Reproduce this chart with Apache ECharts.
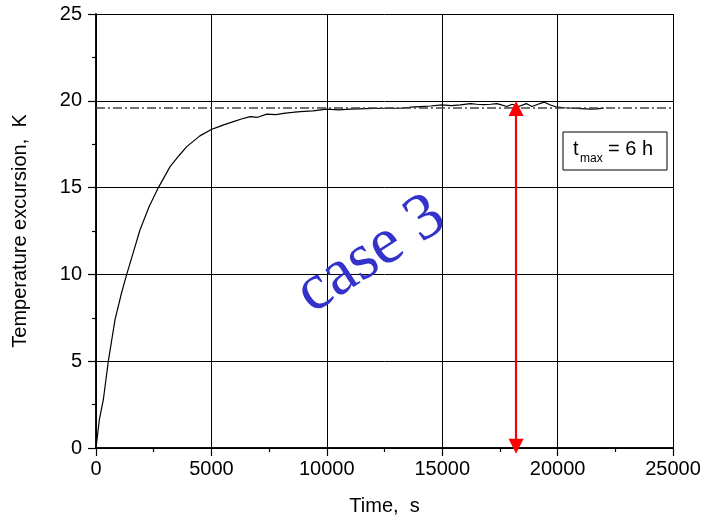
<!DOCTYPE html>
<html><head><meta charset="utf-8">
<script src="https://cdn.jsdelivr.net/npm/echarts@6/dist/echarts.min.js"></script>
<style>html,body{margin:0;padding:0;background:#fff}#c{width:705px;height:522px}</style>
</head><body><div id="c"></div>
<script>
// Time (s) and temperature excursion (K)
const timeS = [0,145,318,533,824,1100,1330,1600,1908,2300,2703,3209,3600,3932,4500,5016,5300,5500,5955,6300,6680,7000,7403,7800,8125,8500,8850,9400,10004,10500,11015,11700,12460,13180,13617,14050,14500,14990,15400,15785,16220,16500,16795,17100,17375,17810,18025,18310,18645,18890,19150,19425,19690,19980,20300,20700,21000,21420,21700,22000];
const tempK = [0,1.63,2.78,4.99,7.39,8.9,10.0,11.2,12.57,13.9,15.0,16.21,16.85,17.36,17.98,18.36,18.5,18.6,18.8,18.95,19.09,19.05,19.23,19.2,19.28,19.33,19.38,19.42,19.52,19.48,19.52,19.55,19.57,19.57,19.63,19.67,19.7,19.76,19.72,19.76,19.84,19.8,19.78,19.8,19.84,19.67,19.8,19.67,19.84,19.67,19.8,19.92,19.76,19.63,19.6,19.57,19.55,19.52,19.54,19.58];
const refLevel = 19.6;           // dash-dot reference level, K
const arrowTime = 18200;         // red double arrow position, s
const arrowFrom = 0.1, arrowTo = 19.55;
const xMin = 0, xMax = 25000, xStep = 5000;
const yMin = 0, yMax = 25, yStep = 5;
const xName = 'Time,  s';
const yName = 'Temperature excursion,  K';
const caseLabel = 'case 3';

const font = '"Liberation Sans", Arial, sans-serif';
const chart = echarts.init(document.getElementById('c'));
const data = timeS.map((t, i) => [t, tempK[i]]);
const mainAxisCommon = {
  axisLine: {show: true, lineStyle: {color: '#000', width: 1.5}},
  axisTick: {show: true, inside: false, length: 8, lineStyle: {color: '#000', width: 1.2}},
  minorTick: {show: true, splitNumber: 2, length: 4, lineStyle: {color: '#000', width: 1.2}},
  splitLine: {show: true, lineStyle: {color: '#000', width: 1}},
  nameTextStyle: {color: '#000', fontSize: 20, fontFamily: font},
  nameLocation: 'middle'
};
const frameAxisCommon = {
  axisLine: {show: true, lineStyle: {color: '#000', width: 1.5}},
  axisTick: {show: true, inside: true, length: 2, lineStyle: {color: '#000'}},
  axisLabel: {show: false},
  splitLine: {show: false}
};
const labelStyle = (m) => ({color: '#000', fontSize: 20, fontFamily: font, margin: m,
  formatter: (v) => String(v)});
chart.setOption({
  animation: false,
  backgroundColor: '#fff',
  grid: {left: 96, right: 32, top: 14, bottom: 74},
  xAxis: [
    Object.assign({type: 'value', min: xMin, max: xMax, interval: xStep, position: 'bottom',
      name: xName, nameGap: 48, axisLabel: labelStyle(11)}, mainAxisCommon),
    Object.assign({type: 'value', min: xMin, max: xMax, interval: xStep, position: 'top'}, frameAxisCommon)
  ],
  yAxis: [
    Object.assign({type: 'value', min: yMin, max: yMax, interval: yStep, position: 'left',
      name: yName, nameGap: 66, axisLabel: labelStyle(14)}, mainAxisCommon),
    Object.assign({type: 'value', min: yMin, max: yMax, interval: yStep, position: 'right'}, frameAxisCommon)
  ],
  series: [{
    type: 'line', data: data, showSymbol: false, symbol: 'none',
    lineStyle: {color: '#000', width: 1.2},
    markLine: {
      silent: true, animation: false,
      symbol: ['none', 'none'],
      label: {show: false},
      data: [
        {yAxis: refLevel,
          lineStyle: {type: [9, 3, 2, 3], color: '#444', width: 1.5}},
        [{coord: [arrowTime, arrowFrom], symbol: 'triangle', symbolSize: [15, 15]},
         {coord: [arrowTime, arrowTo], symbol: 'triangle', symbolSize: [15, 15],
          lineStyle: {color: '#ff0000', width: 2.2, type: 'solid'}}]
      ]
    }
  }],
  graphic: [
    {type: 'text', x: 371, y: 255, rotation: 33 * Math.PI / 180, z: 10,
      style: {text: caseLabel, fontSize: 66, fontFamily: '"Liberation Serif", "Times New Roman", serif',
        fill: '#3333cc', align: 'center', verticalAlign: 'middle'}},
    {type: 'rect', shape: {x: 563, y: 132, width: 104, height: 38}, z: 10,
      style: {fill: '#fff', stroke: '#000', lineWidth: 1}},
    {type: 'text', x: 573, y: 149, z: 11,
      style: {text: 't', fontSize: 20, fontFamily: font, fill: '#000', align: 'left', verticalAlign: 'middle'}},
    {type: 'text', x: 580, y: 158.5, z: 11,
      style: {text: 'max', fontSize: 12, fontFamily: font, fill: '#000', align: 'left', verticalAlign: 'middle'}},
    {type: 'text', x: 608, y: 149, z: 11,
      style: {text: '= 6 h', fontSize: 20, fontFamily: font, fill: '#000', align: 'left', verticalAlign: 'middle'}}
  ]
});
</script></body></html>
